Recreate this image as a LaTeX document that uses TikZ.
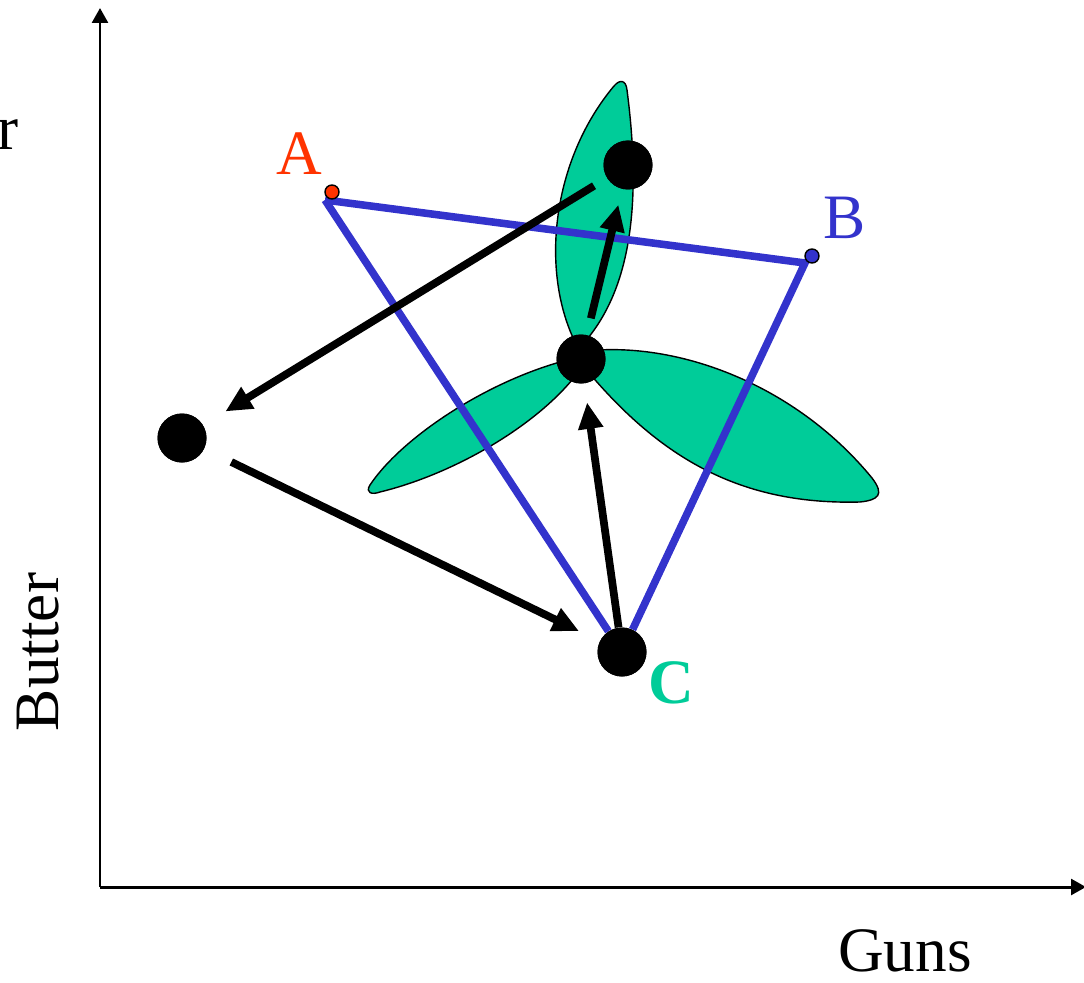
\documentclass[tikz,border=0pt]{standalone}
\usepackage{fontspec}
\setmainfont{Liberation Serif}
\usepackage{xcolor}
\usepackage{tikz}
\usetikzlibrary{arrows.meta}
\definecolor{PointRed}{HTML}{FF3300}
\definecolor{FrontierBlue}{HTML}{3333CC}
\definecolor{LobeGreen}{HTML}{00CC99}

\begin{document}
\begin{tikzpicture}[x=0.2mm, y=-0.2mm,
    axis/.style={line width=1.7pt, -{Triangle[length=8.5pt,width=9pt]}},
    blueline/.style={FrontierBlue, line width=4.3pt},
    move/.style={line width=4.4pt, -{Triangle[length=15pt,width=13.5pt]}},
    bigdot/.style={circle, fill=black, inner sep=0pt, minimum size=9.8mm},
    smalldot/.style={circle, draw=black, line width=0.8pt, inner sep=0pt, minimum size=2.8mm},
    lobe/.style={fill=LobeGreen, draw=black, line width=0.8pt},
    lbl/.style={font=\fontsize{36}{40}\selectfont, inner sep=0pt}]
    \useasboundingbox (0,0) rectangle (1084,983);
    \coordinate (origin) at (100,887);
    \coordinate (ytip) at (100,8);
    \coordinate (xtip) at (1086,887);
    \draw[axis] (origin) -- (ytip);
    \draw[axis] (origin) -- (xtip);
    \node[lbl, anchor=base east] (ycut) at (19,150) {r};
    \node[lbl, rotate=90] (ylab) at (38,652) {Butter};
    \node[lbl, anchor=base] (xlab) at (905,971) {Guns};
    \path[lobe] (575,342) .. controls (540,270) and (552,160) .. (614,86)
      .. controls (620,79) and (626,80) .. (627,90)
      .. controls (640,190) and (635,280) .. (588,338) -- cycle;
    \path[lobe] (560,362) .. controls (480,385) and (400,440) .. (370,485)
      .. controls (365,493) and (372,495) .. (380,492)
      .. controls (450,475) and (530,430) .. (572,380) -- cycle;
    \path[lobe] (598,350) .. controls (690,345) and (800,390) .. (872,478)
      .. controls (885,495) and (878,500) .. (860,502)
      .. controls (745,505) and (665,462) .. (590,374) -- cycle;
    \node[bigdot] (peak) at (628,165) {};
    \node[bigdot] (hub) at (581,359) {};
    \node[bigdot] (west) at (182,438) {};
    \node[bigdot] (cdot) at (622,652) {};
    \coordinate (Avert) at (325,200);
    \coordinate (Bvert) at (805,263);
    \draw[blueline] (Avert) -- (Bvert) -- (cdot);
    \draw[blueline] (Avert) -- (cdot);
    \node[smalldot, fill=PointRed] (adot) at (332,192) {};
    \node[smalldot, fill=FrontierBlue] (bdot) at (812,256) {};
    \draw[move, shorten <=3mm, shorten >=5.2mm] (peak) -- (west);
    \draw[move, shorten <=6mm, shorten >=4.6mm] (west) -- (cdot);
    \draw[move, shorten >=3.8mm] (cdot) -- (hub);
    \draw[move, shorten <=3.4mm, shorten >=3.2mm] (hub) -- (peak);
    \node[bigdot] at (peak) {};
    \node[bigdot] at (hub) {};
    \node[bigdot] at (west) {};
    \node[bigdot] at (cdot) {};
    \node[lbl, anchor=base, text=PointRed] (alab) at (299,175) {A};
    \node[lbl, anchor=base, text=FrontierBlue] (blab) at (845,238) {B};
    \node[lbl, anchor=base, text=LobeGreen, font=\fontsize{36}{40}\selectfont\bfseries] (clab) at (671,703) {C};
\end{tikzpicture}
\end{document}
